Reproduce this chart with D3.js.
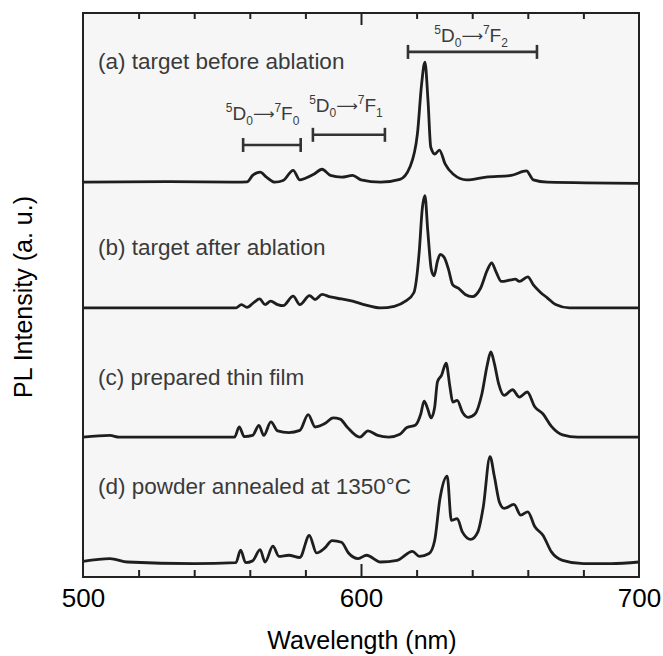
<!DOCTYPE html>
<html>
<head>
<meta charset="utf-8">
<script src="https://cdnjs.cloudflare.com/ajax/libs/d3/7.8.5/d3.min.js"></script>
<style>
  body { margin: 0; background: #fff; }
  svg { display: block; font-family: "Liberation Sans", Arial, Helvetica, sans-serif; }
</style>
</head>
<body>
<div id="chart"></div>
<script>
// wavelength (nm), PL intensity (a. u., relative to each spectrum's own baseline)
var spectrumA = [[500,0],[530,0.1],[555,0],[559,0.05],[561,1.2],[563.7,1.8],[566,0.9],[569,0],[572,0.3],[575.6,2.1],[578,0.4],[580,0.7],[583,1.4],[586,2.3],[589,1.2],[593,0.9],[597,1.2],[600,0.4],[607,0],[614,0.5],[617.6,2.7],[620.3,8.6],[621.8,17.4],[623,21.3],[624.1,14.5],[625.1,6.2],[626.6,5.0],[628.2,5.7],[630.3,3.2],[633.2,1.4],[638,0.4],[645,0.9],[654,1.2],[659.5,2.0],[662,0.4],[667,0],[700,-0.2]];

var spectrumB = [[500,0],[540,0],[555,0],[557,0.6],[559,0.1],[561.5,1.0],[563.5,1.6],[565.5,0.6],[567.5,1.2],[570,0.6],[572,0.4],[575.6,2.1],[578,0.6],[581.5,2.2],[583.5,1.5],[586,2.4],[589,1.95],[593,1.6],[597,1.2],[601,0.6],[607,0],[612,0.3],[616,1.2],[619,2.7],[621,10.3],[622,17.4],[623,19.9],[624,13.8],[625.3,6.8],[626.3,5.7],[627.5,8.3],[628.5,9.5],[630,8.9],[631.5,6.8],[633,4.1],[635,3.5],[637.5,2.4],[640,2.0],[643,3.5],[645.5,6.8],[647,8.0],[648.5,6.5],[650.5,4.7],[654,5.0],[655.5,5.1],[657,4.7],[660,5.5],[662,4.1],[664.5,2.8],[667,1.8],[670,0.6],[675,0],[700,0]];

var spectrumC = [[500,0],[509.7,0.3],[513,0],[530,0],[554.5,0],[556.2,1.8],[558,0.1],[561,0.3],[563.3,2.1],[565,0.3],[567.6,2.7],[570,1.1],[574,0.8],[578,1.2],[581,4.0],[583.5,1.8],[587,2.4],[590,3.4],[592.5,3.2],[595,1.8],[599.6,0],[602.5,1.1],[606,0.3],[610,0],[614,0.5],[616.5,1.7],[619.5,2.1],[621.5,4.1],[622.7,6.4],[624,5.0],[625.2,3.4],[626.5,5.3],[627.5,9.8],[629,11],[630.6,13.1],[632,8.9],[633,6.2],[634.6,6.5],[636.5,4.4],[638.5,3.5],[641,4.1],[643.5,7.7],[645.5,13.0],[646.7,15.1],[648,13.0],[649.5,9.5],[651.5,7.4],[654.5,8.4],[657,7.1],[659.8,8.0],[662.5,5.4],[665.5,4.1],[668.5,1.9],[672.5,0.4],[678,0],[700,0]];

var spectrumD = [[500,0.1],[509.7,0.6],[516,0],[540,-0.3],[555,-0.1],[556.7,2.1],[558.5,-0.1],[561,0.2],[563.7,2.2],[565.5,0],[568.3,2.8],[570.5,1.0],[574,1.2],[578,0.8],[581.4,4.7],[584,1.6],[587,2.5],[589.6,3.8],[593,3.5],[595.5,1.6],[599,0.6],[602,1.2],[607,0],[613,0.3],[618.5,1.9],[621,1.0],[624.5,1.5],[626.5,3.8],[628.4,11.2],[631,15.2],[632.5,7.4],[634.6,7.7],[636.5,5.3],[639.5,4.0],[642,5.3],[644,9.8],[646.4,18.7],[648,15.1],[649.8,10.6],[651.5,9.5],[655,10.2],[657.5,8.3],[660,8.9],[662.5,6.3],[665.5,4.7],[668.5,1.8],[672.5,0.3],[680,-0.3],[690,-0.3],[700,0]];

var spectra = [spectrumA, spectrumB, spectrumC, spectrumD];
var offsets = [70.0, 47.7, 24.8, 2.66];           // vertical stacking of the curves
var seriesLabels = ['(a) target before ablation', '(b) target after ablation', '(c) prepared thin film', '(d) powder annealed at 1350\u00B0C'];
var labelLevels = [90.1, 57.1, 34.0, 14.7];

var xLabelTicks = [500, 600, 700];
var minorTicks = [520, 540, 560, 580, 620, 640, 660, 680];
var majorTicks = [600];

// 5D0 -> 7FJ transitions: bracket range (nm), bracket level, label centre
var transitions = [
	{ up: '0', low: '0', from: 557.6, to: 578.3, level: 76.6, textAt: 564.6, textLevel: 81.0 },
	{ up: '0', low: '1', from: 582.7, to: 608.6, level: 78.4, textAt: 594.6, textLevel: 82.4 },
	{ up: '0', low: '2', from: 616.9, to: 663.3, level: 93.1, textAt: 639.6, textLevel: 94.8 }
];

(function() {

	var width = 663, height = 656;
	var plotLeft = 83, plotRight = 639, plotTop = 13, plotBottom = 577;

	var svg = d3.select('#chart').append('svg')
		.attr('width', width)
		.attr('height', height);

	var x = d3.scaleLinear().domain([500, 700]).range([plotLeft, plotRight]);
	var y = d3.scaleLinear().domain([0, 100]).range([plotBottom, plotTop]);

	// plot background
	svg.append('rect')
		.attr('x', plotLeft).attr('y', plotTop)
		.attr('width', plotRight - plotLeft).attr('height', plotBottom - plotTop)
		.style('fill', '#f6f6f6');

	spectra.forEach(function(s, i) {
		var line = d3.line()
			.x(function(d) {return x(d[0]);})
			.y(function(d) {return y(d[1] + offsets[i]);})
			.curve(d3.curveMonotoneX);

		svg.append('path')
			.datum(s)
			.attr('d', line)
			.style('fill', 'none')
			.style('stroke', '#1e1e1e')
			.style('stroke-width', 2.8)
			.style('stroke-linejoin', 'round');
	});

	// series labels
	svg.selectAll('.label').data(seriesLabels).enter().append('text')
		.attr('class', 'label')
		.attr('x', x(505.4))
		.attr('y', function(d, i) {return y(labelLevels[i]);})
		.style('font-size', '22.5px')
		.style('fill', '#3a3a3a')
		.text(function(d) {return d;});

	// transition brackets
	var tr = svg.selectAll('.transition').data(transitions).enter().append('g').attr('class', 'transition');

	tr.append('line')
		.attr('x1', function(d) {return x(d.from);})
		.attr('x2', function(d) {return x(d.to);})
		.attr('y1', function(d) {return y(d.level);})
		.attr('y2', function(d) {return y(d.level);})
		.style('stroke', '#333').style('stroke-width', 2.6);

	['from', 'to'].forEach(function(k) {
		tr.append('line')
			.attr('x1', function(d) {return x(d[k]);})
			.attr('x2', function(d) {return x(d[k]);})
			.attr('y1', function(d) {return y(d.level) - 7;})
			.attr('y2', function(d) {return y(d.level) + 7;})
			.style('stroke', '#333').style('stroke-width', 2.6);
	});

	var tt = tr.append('text')
		.attr('x', function(d) {return x(d.textAt);})
		.attr('y', function(d) {return y(d.textLevel);})
		.attr('text-anchor', 'middle')
		.style('font-size', '19px')
		.style('fill', '#3a3a3a');

	tt.append('tspan').attr('dy', -8).style('font-size', '12px').text('5');
	tt.append('tspan').attr('dy', 8).text('D');
	tt.append('tspan').attr('dy', 5).style('font-size', '12px').text(function(d) {return d.up;});
	tt.append('tspan').attr('dy', -6).style('font-size', '15px').style('font-family', '"DejaVu Sans", sans-serif').text('\u27F6');
	tt.append('tspan').attr('dy', -7).style('font-size', '12px').text('7');
	tt.append('tspan').attr('dy', 8).text('F');
	tt.append('tspan').attr('dy', 5).style('font-size', '12px').text(function(d) {return d.low;});

	// ticks, pointing inwards
	var tickAxis = function(axisFn, ticks, size, pos) {
		var g = svg.append('g')
			.attr('transform', 'translate(0,' + pos + ')')
			.call(axisFn(x).tickValues(ticks).tickSize(size).tickFormat(''));
		g.select('.domain').remove();
		g.selectAll('line').style('stroke', '#222').style('stroke-width', 2);
	};
	tickAxis(d3.axisBottom, minorTicks, -7, plotBottom);
	tickAxis(d3.axisBottom, majorTicks, -13, plotBottom);
	tickAxis(d3.axisTop, minorTicks, -6, plotTop);
	tickAxis(d3.axisTop, majorTicks, -12, plotTop);

	var xLab = svg.append('g')
		.attr('transform', 'translate(0,' + plotBottom + ')')
		.call(d3.axisBottom(x).tickValues(xLabelTicks).tickSize(0).tickPadding(12));
	xLab.select('.domain').remove();
	xLab.selectAll('text')
		.style('font-size', '26px')
		.style('font-family', '"Liberation Sans", Arial, sans-serif')
		.style('fill', '#000');

	// frame
	svg.append('rect')
		.attr('x', plotLeft).attr('y', plotTop)
		.attr('width', plotRight - plotLeft).attr('height', plotBottom - plotTop)
		.style('fill', 'none')
		.style('stroke', '#222')
		.style('stroke-width', 2);

	// axis titles
	svg.append('text')
		.attr('x', (plotLeft + plotRight) / 2 + 1)
		.attr('y', 649)
		.attr('text-anchor', 'middle')
		.style('font-size', '25px')
		.text('Wavelength (nm)');

	svg.append('text')
		.attr('transform', 'translate(32,297) rotate(-90)')
		.attr('text-anchor', 'middle')
		.style('font-size', '25px')
		.text('PL Intensity (a. u.)');

})();
</script>
</body>
</html>
